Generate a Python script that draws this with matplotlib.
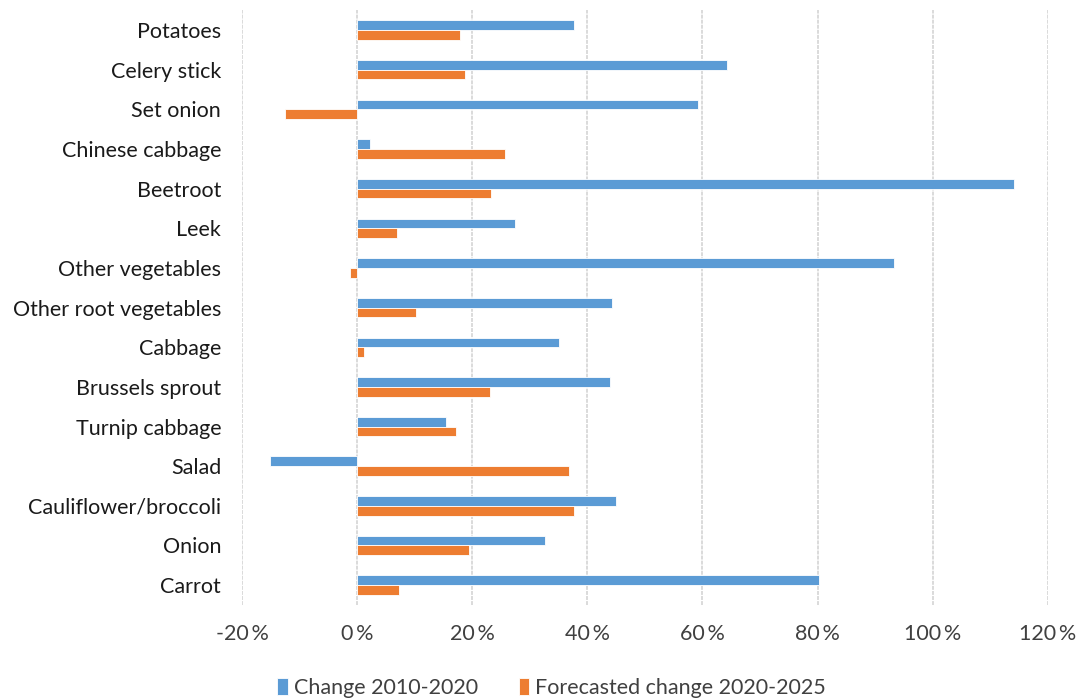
import matplotlib.pyplot as plt
import numpy as np

categories = ["Potatoes", "Celery stick", "Set onion", "Chinese cabbage", "Beetroot",
              "Leek", "Other vegetables", "Other root vegetables", "Cabbage",
              "Brussels sprout", "Turnip cabbage", "Salad", "Cauliflower/broccoli",
              "Onion", "Carrot"]
change_2010_2020 = [37.6, 64.2, 59.2, 2.3, 114.2, 27.4, 93.3, 44.2, 35.0,
                    44.0, 15.4, -15.1, 44.9, 32.7, 80.2]
forecast_2020_2025 = [17.8, 18.7, -12.5, 25.7, 23.2, 6.9, -1.2, 10.3, 1.2,
                      23.1, 17.2, 36.8, 37.6, 19.5, 7.3]
xticks = [-20, 0, 20, 40, 60, 80, 100, 120]

plt.rcParams['font.family'] = ['Lato', 'DejaVu Sans']

fig = plt.figure(figsize=(10.83, 6.99), dpi=100)
ax = fig.add_axes([0.2235, 0.1345, 0.744, 0.851])

y = np.arange(len(categories))
h = 0.245
ax.barh(y - h / 2, change_2010_2020, height=h, color='#5B9BD5',
        edgecolor='white', linewidth=0.6, label='Change 2010-2020', zorder=3)
ax.barh(y + h / 2, forecast_2020_2025, height=h, color='#ED7D31',
        edgecolor='white', linewidth=0.6, label='Forecasted change 2020-2025', zorder=3)

ax.set_xlim(-20, 120)
ax.set_ylim(len(categories) - 0.5, -0.5)
ax.set_xticks(xticks)
ax.set_xticklabels([f"{t}\u2009%" for t in xticks], fontsize=15.5, color='#404040')
ax.set_yticks(y)
ax.set_yticklabels(categories, fontsize=15.5, color='#1a1a1a')
ax.tick_params(axis='both', length=0)
ax.tick_params(axis='x', pad=14)
ax.tick_params(axis='y', pad=15)

ax.grid(axis='x', color='#DADADA', linestyle=(0, (2, 0.6)), linewidth=1.4, zorder=0)
for s in ax.spines.values():
    s.set_visible(False)

ax.legend(loc='upper center', bbox_to_anchor=(0.384, -0.09), ncol=2, frameon=False,
          fontsize=15.5, handlelength=0.5, handleheight=0.8, handletextpad=0.25,
          columnspacing=1.9, labelcolor='#404040')

fig.savefig('out.png', dpi=100)
